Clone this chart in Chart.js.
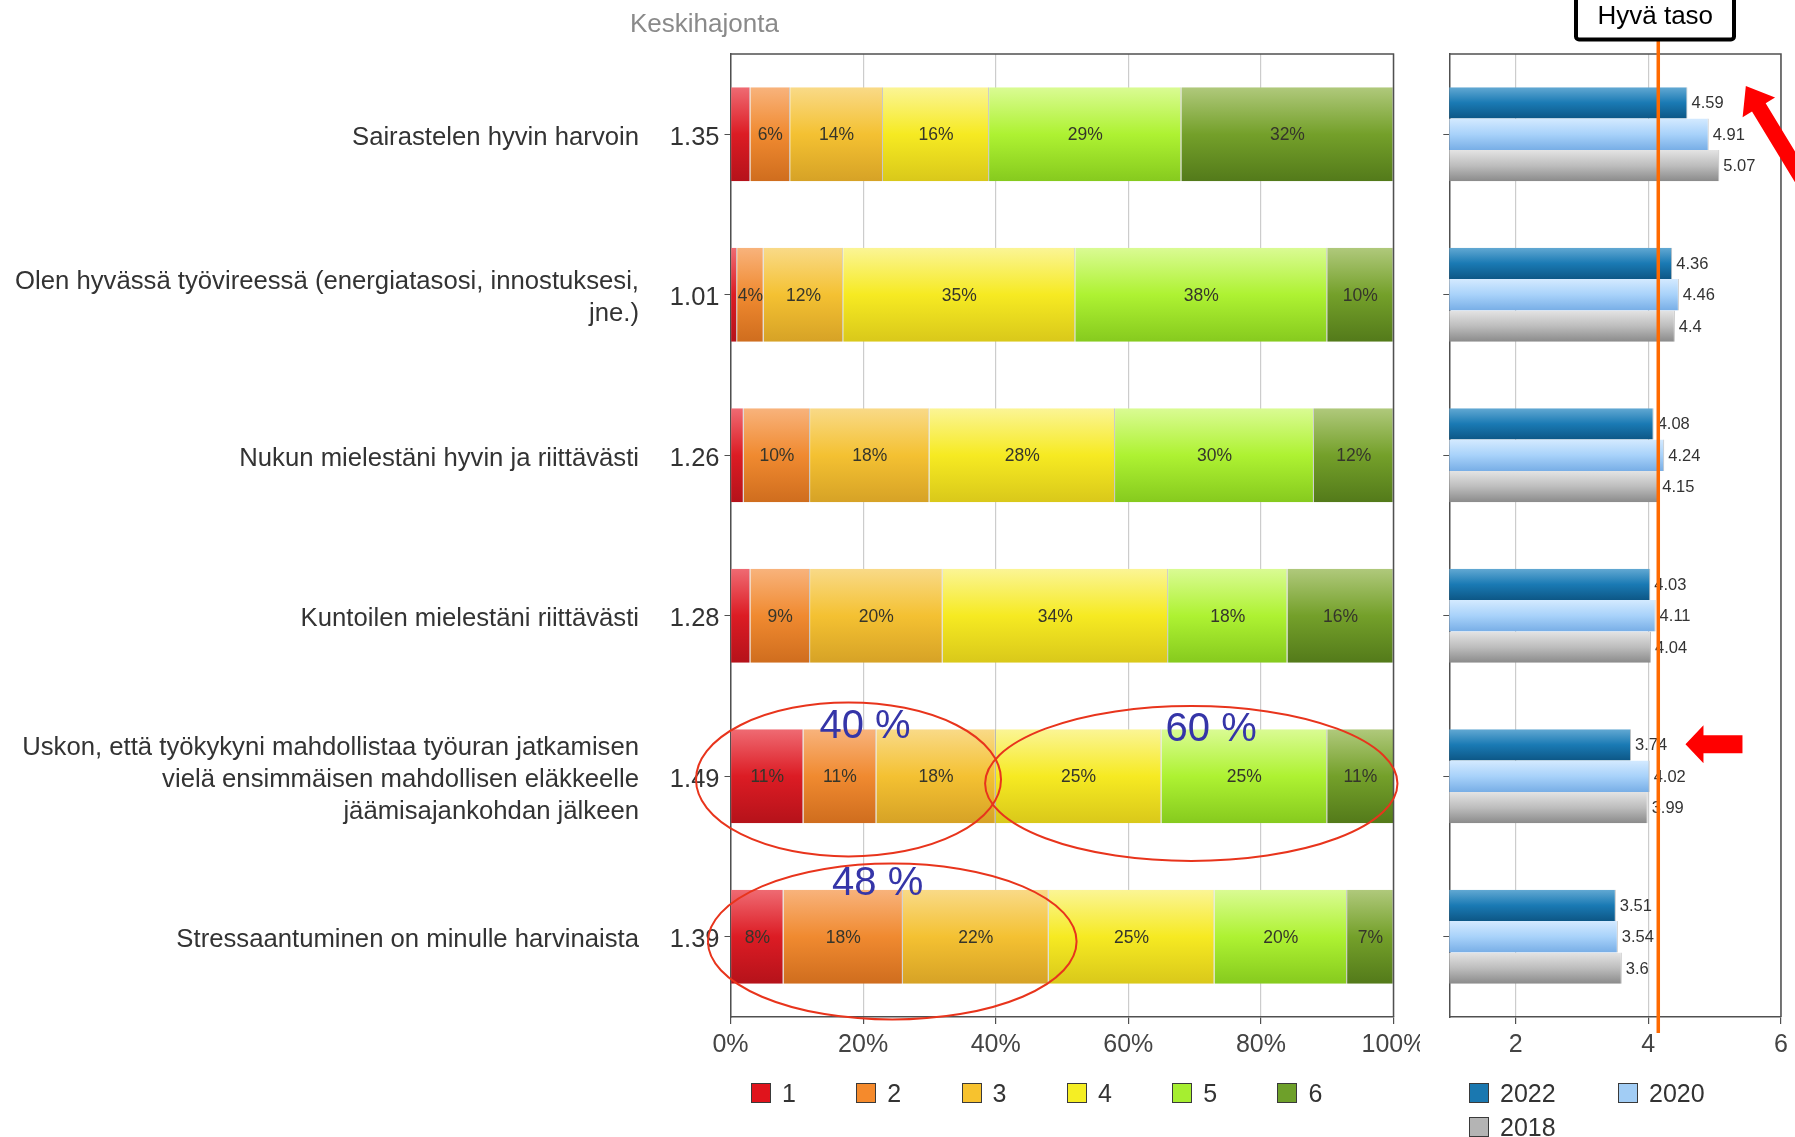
<!DOCTYPE html>
<html lang="fi">
<head>
<meta charset="utf-8">
<title>Työkyky ja hyvinvointi</title>
<script src="https://cdn.jsdelivr.net/npm/chart.js"></script>
<style>
  body { margin: 0; background: #fff; }
  #page { position: relative; width: 1795px; height: 1137px; overflow: hidden;
          font-family: 'Liberation Sans', Arial, sans-serif; }
  #page canvas { position: absolute; top: 0; }
  .legend { position: absolute; display: flex; flex-wrap: wrap; row-gap: 14px;
            font-size: 25px; color: #333; }
  .legend .item { display: flex; align-items: center; height: 20px; white-space: nowrap; }
  .legend .box { width: 18px; height: 18px; border: 1px solid #3a3a3a; margin-right: 11px; }
</style>
</head>
<body>
<div id="page">
  <canvas id="scores" width="1420" height="1137" style="left:0"></canvas>
  <canvas id="means" width="375" height="1137" style="left:1420px"></canvas>
  <div id="scoreLegend" class="legend" style="left:751px; top:1083px; width:700px"></div>
  <div id="meanLegend" class="legend" style="left:1469px; top:1083px; width:298px"></div>
</div>
<script>
// statements (y axis), top to bottom
const questions = [
  'Sairastelen hyvin harvoin',
  ['Olen hyvässä työvireessä (energiatasosi, innostuksesi,', 'jne.)'],
  'Nukun mielestäni hyvin ja riittävästi',
  'Kuntoilen mielestäni riittävästi',
  ['Uskon, että työkykyni mahdollistaa työuran jatkamisen', 'vielä ensimmäisen mahdollisen eläkkeelle', 'jäämisajankohdan jälkeen'],
  'Stressaantuminen on minulle harvinaista'
];
// standard deviation per statement
const deviations = ['1.35', '1.01', '1.26', '1.28', '1.49', '1.39'];

// answer distribution in %, one array per answer option 1..6
const answerLabels = ['1', '2', '3', '4', '5', '6'];
const share1 = [3, 1, 2, 3, 11, 8];
const share2 = [6, 4, 10, 9, 11, 18];
const share3 = [14, 12, 18, 20, 18, 22];
const share4 = [16, 35, 28, 34, 25, 25];
const share5 = [29, 38, 30, 18, 25, 20];
const share6 = [32, 10, 12, 16, 11, 7];
const shareTicks = [0, 20, 40, 60, 80, 100];

// averages per survey year
const years = ['2022', '2020', '2018'];
const mean2022 = [4.59, 4.36, 4.08, 4.03, 3.74, 3.51];
const mean2020 = [4.91, 4.46, 4.24, 4.11, 4.02, 3.54];
const mean2018 = [5.07, 4.4, 4.15, 4.04, 3.99, 3.6];
const meanTicks = [2, 4, 6];
const goodLevel = 4.15;

const FONT = "'Liberation Sans', Arial, sans-serif";
Chart.defaults.font.family = FONT;
Chart.defaults.color = '#333';
Chart.defaults.animation = false;

const AXIS = '#505050';
const GRID = '#cccccc';

// top / middle / bottom tones for the shaded bars
const answerShades = [
  ['#ef6b73', '#dc1c24', '#b5121a'],
  ['#f8b37c', '#f08a30', '#cf6d1e'],
  ['#f9da88', '#f4c132', '#d6a226'],
  ['#fbf596', '#f6ea22', '#d9c81a'],
  ['#dafb94', '#aef232', '#86ca1e'],
  ['#b0c97c', '#74a02a', '#537a1a']
];
const answerSwatch = ['#e0141c', '#f58a2c', '#f7c22e', '#f5ee24', '#a6ee30', '#6ea02a'];
const yearShades = [
  ['#63a9d3', '#1a7ab4', '#0d5786'],
  ['#d4eaff', '#a8d2fa', '#78aee6'],
  ['#e4e4e4', '#bdbdbd', '#8a8a8a']
];
const yearSwatch = ['#1a78b0', '#a2cdf5', '#b4b4b4'];

// vertical gradient for one bar inside its category band
function barShade(shades, slot, slots, thickness) {
  return function (c) {
    const y = c.chart.scales.y;
    if (c.type !== 'data' || !y) return shades[1];
    const band = Math.abs(y.getPixelForValue(1) - y.getPixelForValue(0)) * thickness;
    const h = band / slots;
    const top = y.getPixelForValue(c.dataIndex) - band / 2 + slot * h;
    if (!isFinite(top) || !isFinite(h) || h <= 0) return shades[1];
    const g = c.chart.ctx.createLinearGradient(0, top, 0, top + h);
    g.addColorStop(0, shades[0]);
    g.addColorStop(0.5, shades[1]);
    g.addColorStop(1, shades[2]);
    return g;
  };
}

// closes the plot box on top and right
const frame = {
  id: 'frame',
  afterDatasetsDraw(chart) {
    const { ctx, chartArea: a } = chart;
    ctx.save();
    ctx.strokeStyle = AXIS;
    ctx.lineWidth = 1.5;
    ctx.beginPath();
    ctx.moveTo(a.left, a.top);
    ctx.lineTo(a.right, a.top);
    ctx.lineTo(a.right, a.bottom);
    ctx.stroke();
    ctx.restore();
  }
};

const segmentLabels = {
  id: 'segmentLabels',
  afterDatasetsDraw(chart) {
    const ctx = chart.ctx;
    ctx.save();
    ctx.font = '17.5px ' + FONT;
    ctx.fillStyle = '#35352b';
    ctx.textAlign = 'center';
    ctx.textBaseline = 'middle';
    chart.data.datasets.forEach((ds, i) => {
      chart.getDatasetMeta(i).data.forEach((bar, j) => {
        const v = ds.data[j];
        if (v < 4) return;
        const p = bar.getCenterPoint();
        ctx.fillText(v + '%', Math.min(p.x, (bar.base + chart.chartArea.right) / 2), p.y + 1);
      });
    });
    ctx.restore();
  }
};

// highlighted groups of answers, in axis units (percent, statement index)
const ovals = [
  { cx: 17.8, cy: 4.02, rx: 23.0, ry: 0.48 },
  { cx: 69.5, cy: 4.045, rx: 31.1, ry: 0.483 },
  { cx: 24.4, cy: 5.03, rx: 27.8, ry: 0.486 }
];
const ovalNotes = [
  { text: '40 %', x: 20.3, y: 3.69 },
  { text: '60 %', x: 72.5, y: 3.71 },
  { text: '48 %', x: 22.2, y: 4.67 }
];

const highlights = {
  id: 'highlights',
  afterDraw(chart) {
    const { ctx, scales: { x, y } } = chart;
    ctx.save();
    ctx.strokeStyle = '#e8341c';
    ctx.lineWidth = 2;
    ovals.forEach(o => {
      const cx = x.getPixelForValue(o.cx), cy = y.getPixelForValue(o.cy);
      const rx = x.getPixelForValue(o.cx + o.rx) - cx;
      const ry = y.getPixelForValue(o.cy + o.ry) - cy;
      ctx.beginPath();
      ctx.ellipse(cx, cy, rx, ry, 0, 0, Math.PI * 2);
      ctx.stroke();
    });
    ctx.font = '40px ' + FONT;
    ctx.fillStyle = '#3535a8';
    ctx.textAlign = 'center';
    ctx.textBaseline = 'middle';
    ovalNotes.forEach(n => ctx.fillText(n.text, x.getPixelForValue(n.x), y.getPixelForValue(n.y)));

    // header of the deviation column
    ctx.font = '26px ' + FONT;
    ctx.fillStyle = '#8a8a8a';
    ctx.textAlign = 'left';
    ctx.textBaseline = 'alphabetic';
    ctx.fillText('Keskihajonta', 630, 32);
    ctx.restore();
  }
};

new Chart('scores', {
  type: 'bar',
  data: {
    labels: questions,
    datasets: [share1, share2, share3, share4, share5, share6].map((d, i) => ({
      label: answerLabels[i],
      data: d,
      yAxisID: 'y',
      backgroundColor: barShade(answerShades[i], 0, 1, 0.587),
      borderColor: 'rgba(0,0,0,0.22)',
      borderWidth: { top: 0, bottom: 0, left: 0, right: 1 },
      barPercentage: 0.587,
      categoryPercentage: 1
    }))
  },
  options: {
    responsive: false,
    indexAxis: 'y',
    layout: { padding: { top: 54, right: 26.5, left: 0, bottom: 0 } },
    plugins: { legend: { display: false }, tooltip: { enabled: false } },
    scales: {
      x: {
        stacked: true, min: 0, max: 100,
        afterBuildTicks: s => { s.ticks = shareTicks.map(v => ({ value: v })); },
        grid: { color: GRID, lineWidth: 1.2, tickColor: AXIS, tickLength: 7 },
        border: { color: AXIS, width: 1.5 },
        ticks: { font: { size: 25 }, color: '#444', padding: 6, callback: v => v + '%' },
        afterFit: s => { s.height = 120; s.paddingLeft = 0; s.paddingRight = 0; }
      },
      y: {
        type: 'category', labels: deviations, position: 'left', weight: 0,
        stacked: true, offset: true,
        grid: { offset: false, drawOnChartArea: false, tickLength: 6, tickColor: AXIS },
        border: { color: AXIS, width: 1.5 },
        ticks: { font: { size: 25.5 }, color: '#333', padding: 5, labelOffset: 3.5 },
        afterFit: s => { s.width = 91.5; s.paddingTop = 0; s.paddingBottom = 0; }
      },
      q: {
        type: 'category', axis: 'y', labels: questions, position: 'left', weight: 1,
        offset: true,
        grid: { display: false, drawTicks: false },
        border: { display: false },
        ticks: { font: { size: 25.7, lineHeight: 1.25 }, color: '#333', padding: 0, labelOffset: 3.5 },
        afterFit: s => { s.width = 639; s.paddingTop = 0; s.paddingBottom = 0; }
      }
    }
  },
  plugins: [segmentLabels, frame, highlights]
});

const meanLabels = {
  id: 'meanLabels',
  afterDatasetsDraw(chart) {
    const ctx = chart.ctx;
    ctx.save();
    ctx.font = '16.5px ' + FONT;
    ctx.fillStyle = '#333';
    ctx.textAlign = 'left';
    ctx.textBaseline = 'middle';
    chart.data.datasets.forEach((ds, i) => {
      chart.getDatasetMeta(i).data.forEach((bar, j) => {
        ctx.fillText(String(ds.data[j]), bar.x + 4, bar.y + 1);
      });
    });
    ctx.restore();
  }
};

// arrows in axis units: tip position, direction of travel, sizes in px
const arrows = [
  { x: 5.47, y: -0.30, dx: -0.52, dy: -0.854, len: 170, shaft: 8, head: 25, half: 19 },
  { x: 4.56, y: 3.80, dx: -1, dy: 0, len: 57, shaft: 9, head: 18, half: 19 }
];

const goodLevelMark = {
  id: 'goodLevelMark',
  afterDraw(chart) {
    const { ctx, chartArea: a, scales: { x, y } } = chart;
    const gx = x.getPixelForValue(goodLevel);
    ctx.save();
    ctx.strokeStyle = '#ff6a00';
    ctx.lineWidth = 3.5;
    ctx.beginPath();
    ctx.moveTo(gx, 40);
    ctx.lineTo(gx, a.bottom + 16);
    ctx.stroke();

    // label box
    ctx.fillStyle = '#fff';
    ctx.strokeStyle = '#000';
    ctx.lineWidth = 4;
    ctx.beginPath();
    if (ctx.roundRect) ctx.roundRect(156, -4, 158, 43.5, 3);
    else ctx.rect(156, -4, 158, 43.5);
    ctx.fill();
    ctx.stroke();
    ctx.fillStyle = '#000';
    ctx.font = '26px ' + FONT;
    ctx.textAlign = 'center';
    ctx.textBaseline = 'alphabetic';
    ctx.fillText('Hyvä taso', gx - 3, 24);

    ctx.fillStyle = '#ff0000';
    arrows.forEach(ar => {
      const tx = x.getPixelForValue(ar.x), ty = y.getPixelForValue(ar.y);
      ctx.save();
      ctx.translate(tx, ty);
      ctx.rotate(Math.atan2(ar.dy, ar.dx));
      ctx.beginPath();
      ctx.moveTo(0, 0);
      ctx.lineTo(-ar.head, -ar.half);
      ctx.lineTo(-ar.head, -ar.shaft);
      ctx.lineTo(-ar.len, -ar.shaft);
      ctx.lineTo(-ar.len, ar.shaft);
      ctx.lineTo(-ar.head, ar.shaft);
      ctx.lineTo(-ar.head, ar.half);
      ctx.closePath();
      ctx.fill();
      ctx.restore();
    });
    ctx.restore();
  }
};

new Chart('means', {
  type: 'bar',
  data: {
    labels: questions,
    datasets: [mean2022, mean2020, mean2018].map((d, i) => ({
      label: years[i],
      data: d,
      backgroundColor: barShade(yearShades[i], i, 3, 0.587),
      borderColor: 'rgba(0,0,0,0.25)',
      borderWidth: { top: 0, bottom: 0, left: 0, right: 1 },
      barPercentage: 1,
      categoryPercentage: 0.587
    }))
  },
  options: {
    responsive: false,
    indexAxis: 'y',
    layout: { padding: { top: 54, right: 14, left: 0, bottom: 0 } },
    plugins: { legend: { display: false }, tooltip: { enabled: false } },
    scales: {
      x: {
        type: 'linear', min: 1, max: 6,
        afterBuildTicks: s => { s.ticks = meanTicks.map(v => ({ value: v })); },
        grid: { color: GRID, lineWidth: 1.2, tickColor: AXIS, tickLength: 7 },
        border: { color: AXIS, width: 1.5 },
        ticks: { font: { size: 25 }, color: '#444', padding: 6 },
        afterFit: s => { s.height = 120; s.paddingLeft = 0; s.paddingRight = 0; }
      },
      y: {
        type: 'category', offset: true,
        grid: { offset: false, drawOnChartArea: false, tickLength: 6, tickColor: AXIS },
        border: { color: AXIS, width: 1.5 },
        ticks: { display: false },
        afterFit: s => { s.width = 29.3; s.paddingTop = 0; s.paddingBottom = 0; }
      }
    }
  },
  plugins: [frame, meanLabels, goodLevelMark]
});

function buildLegend(id, names, colors, itemWidth) {
  const box = document.getElementById(id);
  names.forEach((name, i) => {
    const item = document.createElement('span');
    item.className = 'item';
    item.style.width = itemWidth + 'px';
    const sw = document.createElement('span');
    sw.className = 'box';
    sw.style.background = colors[i];
    item.appendChild(sw);
    item.appendChild(document.createTextNode(name));
    box.appendChild(item);
  });
}
buildLegend('scoreLegend', answerLabels, answerSwatch, 105.3);
buildLegend('meanLegend', years, yearSwatch, 149);
</script>
</body>
</html>
